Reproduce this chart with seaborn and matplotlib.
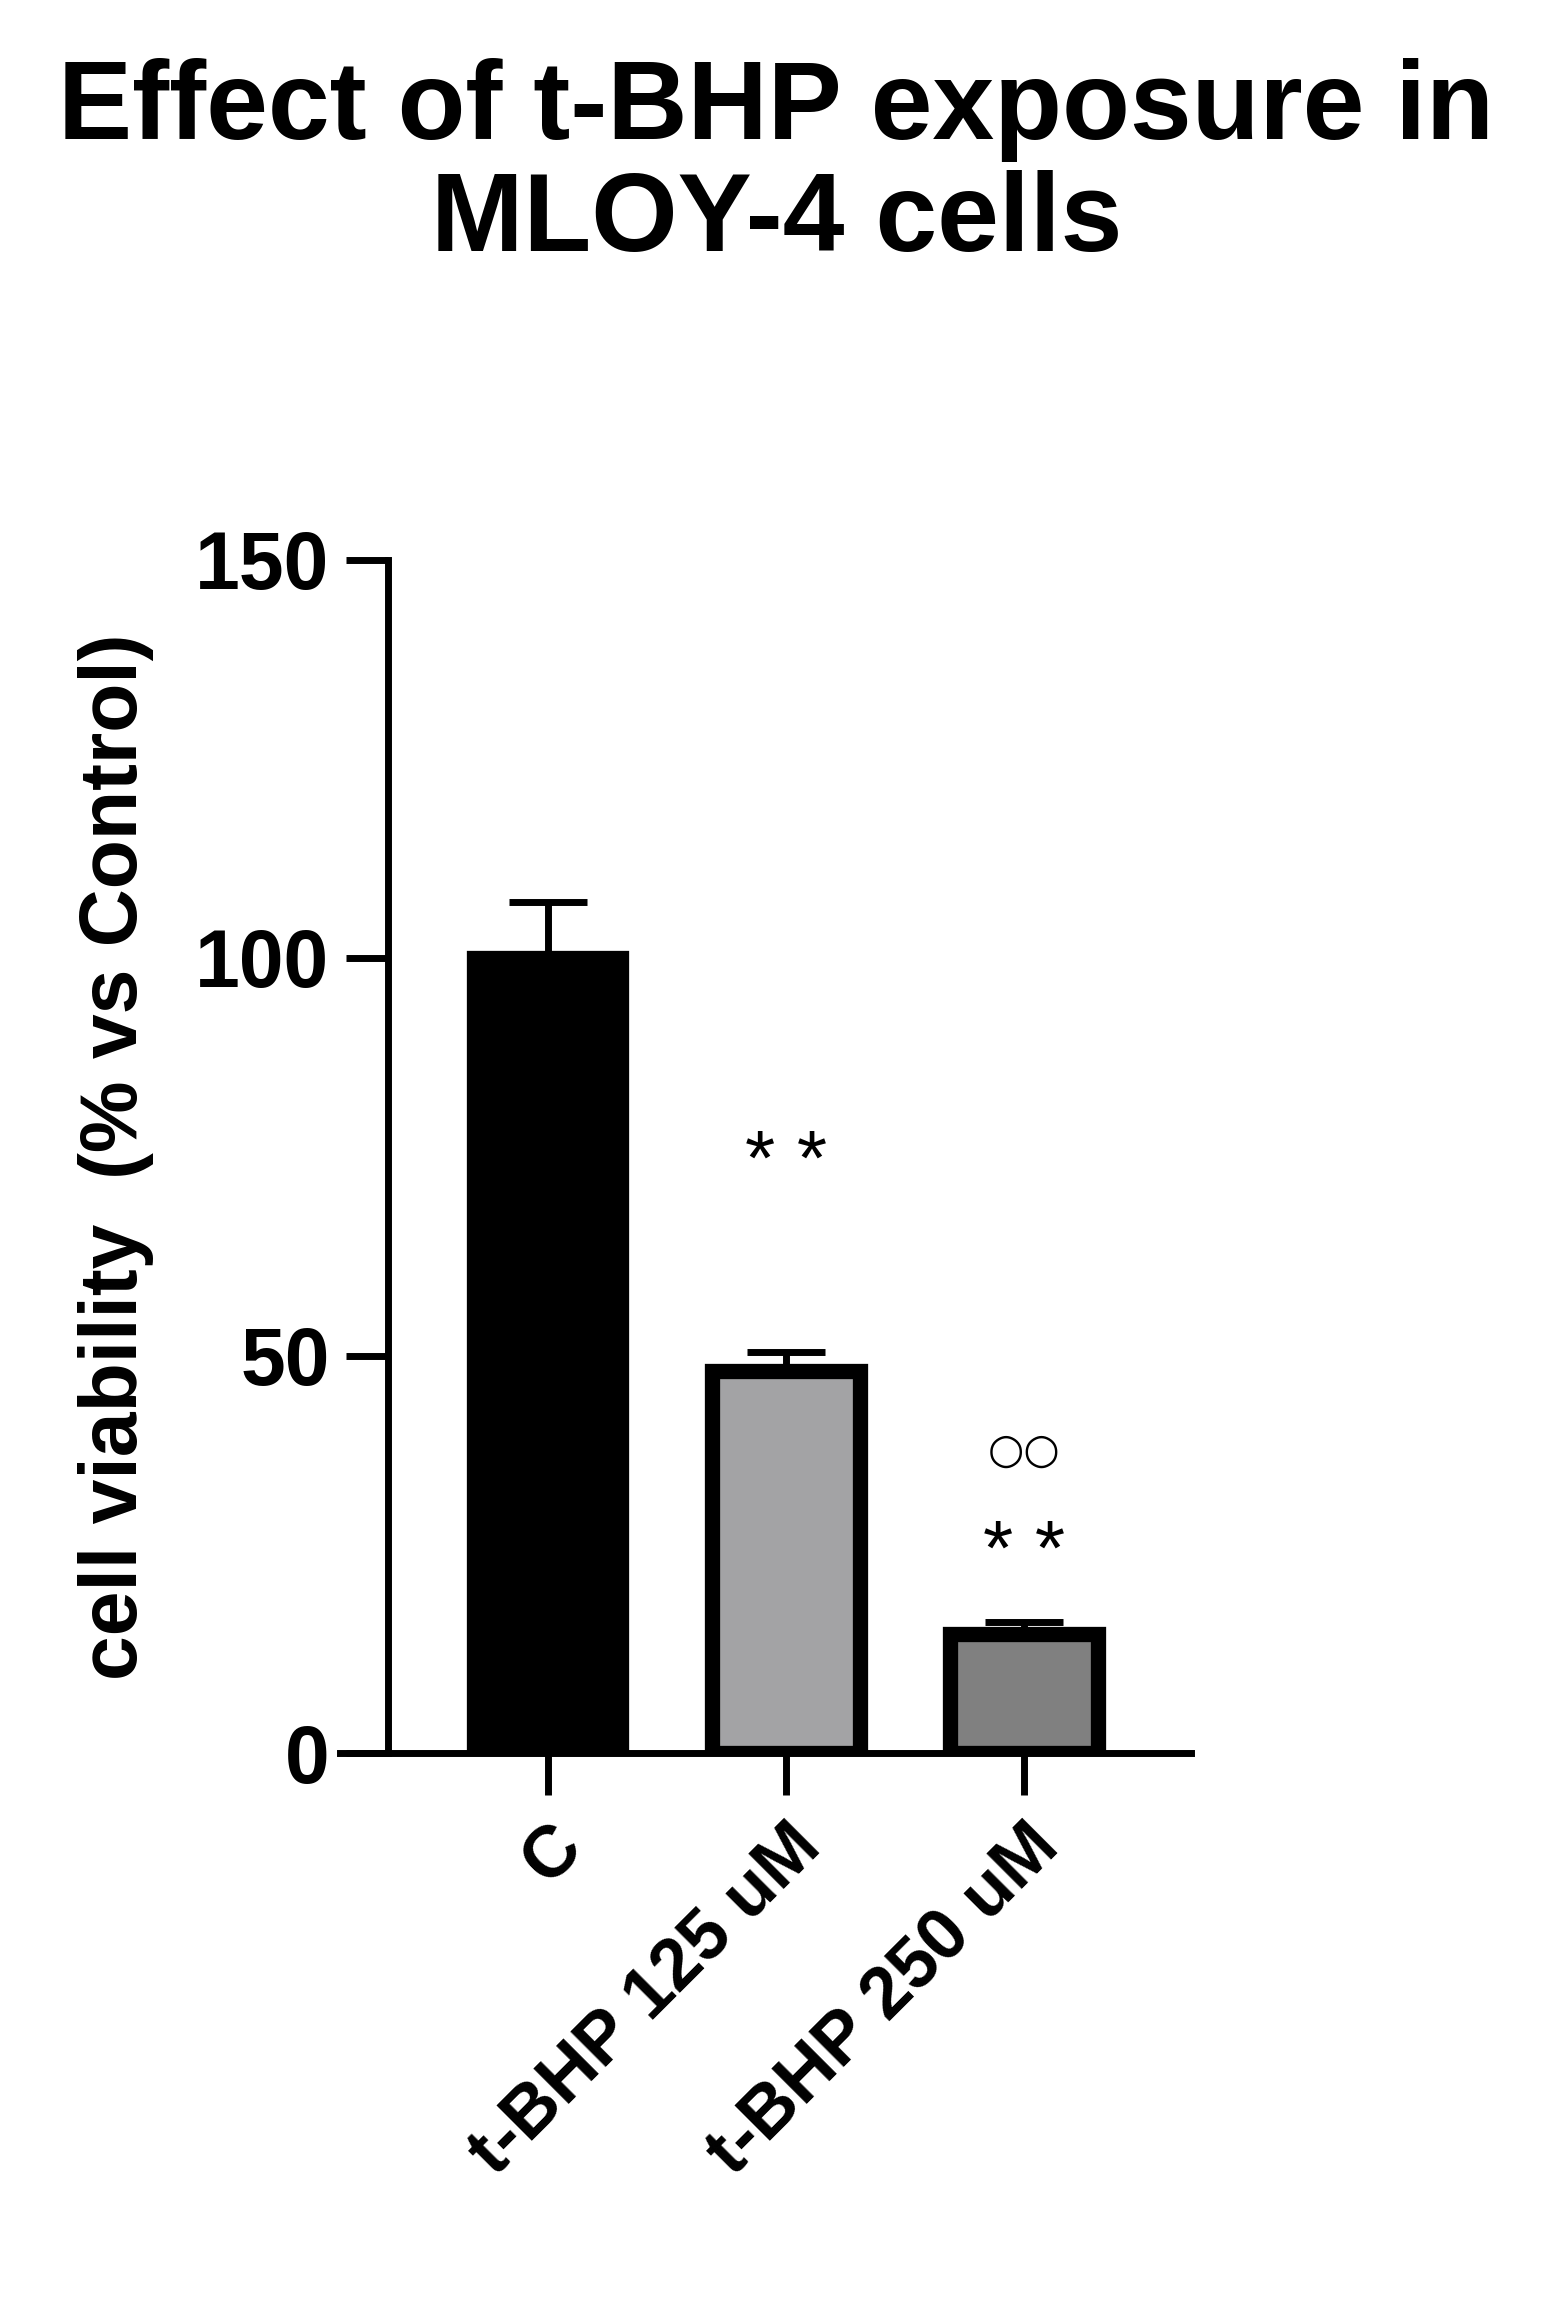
import matplotlib
matplotlib.use("Agg")
import matplotlib.pyplot as plt
import seaborn as sns
import pandas as pd

groups = ["C", "t-BHP 125 uM", "t-BHP 250 uM"]
viability = [100, 48, 15]
sem = [7, 2.5, 1.5]
bar_colors = ["#000000", "#a2a2a6", "#808080"]
stars = ["", "* *", "* *"]
star_y = [None, 74, 25]
circles = ["", "", "\u25CB\u25CB"]
circle_y = [None, None, 38]

sns.set_theme(style="white")
plt.rcParams["font.family"] = ["Liberation Sans", "DejaVu Sans"]
plt.rcParams["text.color"] = "black"
plt.rcParams["axes.labelcolor"] = "black"
plt.rcParams["xtick.color"] = "black"
plt.rcParams["ytick.color"] = "black"

df = pd.DataFrame({"group": groups, "viability": viability})

fig = plt.figure(figsize=(15.53, 23.04), dpi=100)
ax = fig.add_axes([0.219, 0.239, 0.548, 0.518])

sns.barplot(data=df, x="group", y="viability", hue="group", palette=bar_colors,
            width=0.62, edgecolor="black", linewidth=11, legend=False, ax=ax)
ax.errorbar(range(len(groups)), viability, yerr=[[0] * 3, sem], fmt="none",
            ecolor="black", elinewidth=5, capsize=28, capthick=5, zorder=0)

for i in range(len(groups)):
    if stars[i]:
        ax.text(i, star_y[i], stars[i], ha="center", va="center", fontsize=56)
    if circles[i]:
        ax.text(i, circle_y[i], circles[i], ha="center", va="center", fontsize=30,
                family=["DejaVu Sans"])

ax.set_xlim(-0.87, 2.7)
ax.set_ylim(0, 150)
ax.set_yticks([0, 50, 100, 150])
ax.spines["top"].set_visible(False)
ax.spines["right"].set_visible(False)
ax.spines["left"].set_bounds(0, 150)
ax.spines["left"].set_position(("data", -0.67))
for s in ["left", "bottom"]:
    ax.spines[s].set_linewidth(5)
    ax.spines[s].set_color("black")
ax.tick_params(axis="both", direction="out", length=30, width=5, color="black",
               left=True, bottom=True, labelsize=58, pad=12)
for lbl in ax.get_yticklabels():
    lbl.set_fontweight("bold")
ax.set_xticks(range(len(groups)))
ax.set_xticklabels(groups, rotation=45, ha="right", rotation_mode="anchor",
                   fontsize=52, fontweight="bold")
ax.set_xlabel("")
ax.set_ylabel("cell viability  (% vs Control)", fontsize=58, fontweight="bold", labelpad=30)

fig.suptitle("Effect of t-BHP exposure in\nMLOY-4 cells", fontsize=80,
             fontweight="bold", y=0.975, linespacing=1.1)

fig.savefig("out.png", dpi=100)
